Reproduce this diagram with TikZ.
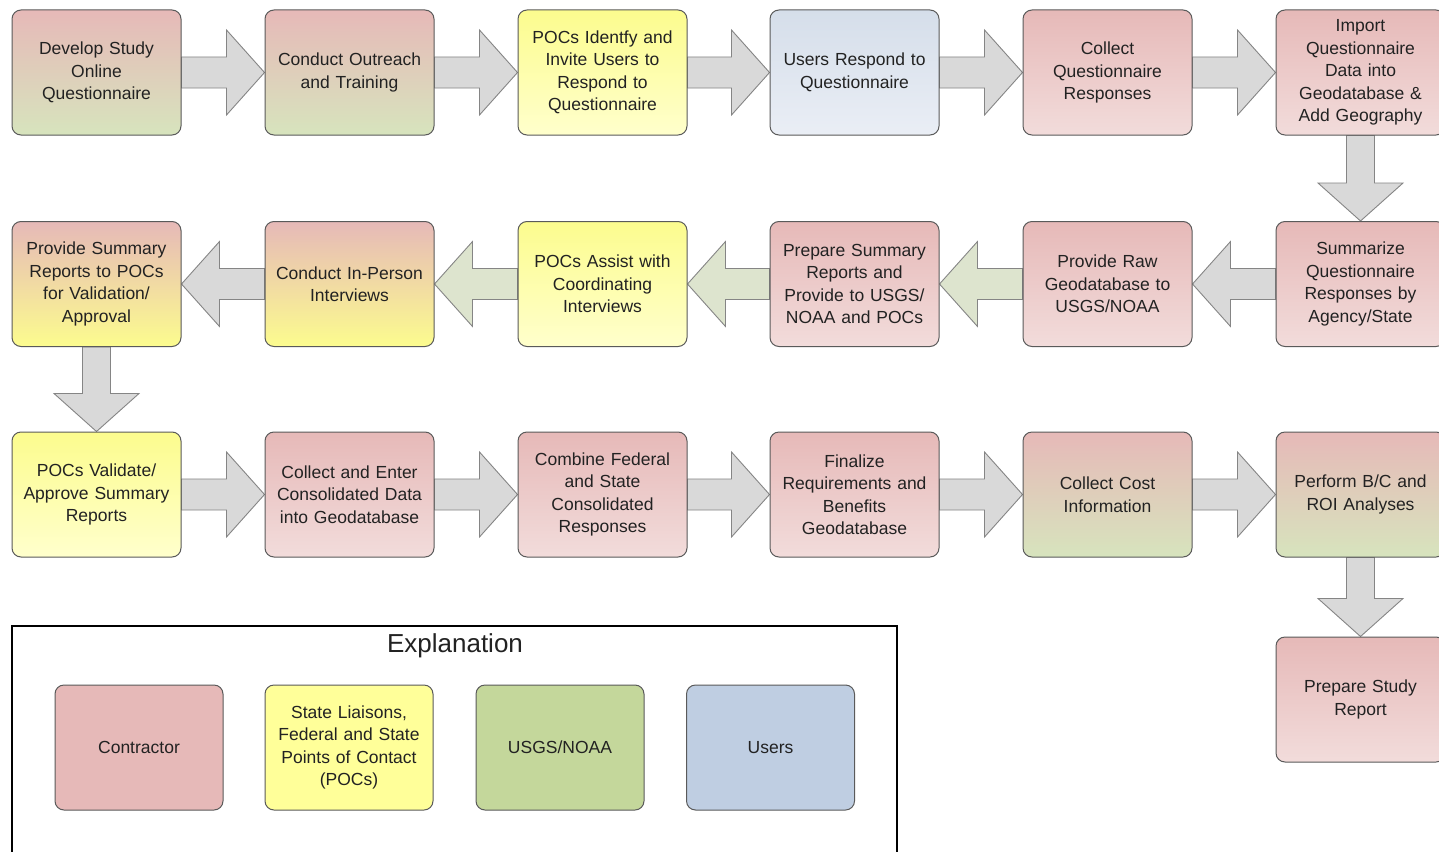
\documentclass[tikz,border=0pt]{standalone}
\usepackage{fontspec}
\setmainfont{Liberation Sans}
\usetikzlibrary{backgrounds}
\definecolor{pk}{HTML}{E6B9B8}
\definecolor{pkl}{HTML}{F2DCDB}
\definecolor{gn}{HTML}{D7E4BD}
\definecolor{yl}{HTML}{FCFC8E}
\definecolor{yll}{HTML}{FFFFCC}
\definecolor{bl}{HTML}{D5DEEA}
\definecolor{bll}{HTML}{EAEEF5}
\definecolor{lpk}{HTML}{E6B9B8}
\definecolor{lyl}{HTML}{FFFF99}
\definecolor{lgn}{HTML}{C4D79B}
\definecolor{lbl}{HTML}{BFCEE2}
\definecolor{agray}{HTML}{D9D9D9}
\definecolor{agreen}{HTML}{DDE4CE}
\definecolor{boxline}{HTML}{5A5A5A}
\definecolor{arrline}{HTML}{858585}
\definecolor{txt}{HTML}{222222}
\tikzset{
  stepbox/.style={draw=boxline, line width=1pt, rounded corners=9pt,
    minimum width=169pt, minimum height=125pt, inner sep=0pt,
    text width=169pt, align=center, text=txt,
    font=\fontsize{17.5}{22.5}\selectfont},
  cpg/.style={stepbox, top color=pk, bottom color=gn},
  cpp/.style={stepbox, top color=pk, bottom color=pkl},
  cyy/.style={stepbox, top color=yl, bottom color=yll},
  cpy/.style={stepbox, top color=pk, bottom color=yl},
  cbb/.style={stepbox, top color=bl, bottom color=bll},
  legbox/.style={draw=boxline, line width=1pt, rounded corners=9pt,
    minimum width=168pt, minimum height=125pt, inner sep=0pt,
    text width=168pt, align=center, text=txt,
    font=\fontsize{17.5}{22.5}\selectfont},
  bigarr/.style={draw=arrline, line width=0.9pt, line join=miter}
}
\newcommand\arrR[3]{\draw[bigarr,fill=#3] ([yshift=15.5pt]#1.east) -- ([xshift=-38pt,yshift=15.5pt]#2.west) -- ([xshift=-38pt,yshift=42.5pt]#2.west) -- (#2.west) -- ([xshift=-38pt,yshift=-42.5pt]#2.west) -- ([xshift=-38pt,yshift=-15.5pt]#2.west) -- ([yshift=-15.5pt]#1.east) -- cycle;}
\newcommand\arrL[3]{\draw[bigarr,fill=#3] ([yshift=15.5pt]#1.west) -- ([xshift=38pt,yshift=15.5pt]#2.east) -- ([xshift=38pt,yshift=42.5pt]#2.east) -- (#2.east) -- ([xshift=38pt,yshift=-42.5pt]#2.east) -- ([xshift=38pt,yshift=-15.5pt]#2.east) -- ([yshift=-15.5pt]#1.west) -- cycle;}
\newcommand\arrD[3]{\draw[bigarr,fill=#3] ([xshift=-14pt]#1.south) -- ([xshift=-14pt,yshift=38pt]#2.north) -- ([xshift=-42.5pt,yshift=38pt]#2.north) -- (#2.north) -- ([xshift=42.5pt,yshift=38pt]#2.north) -- ([xshift=14pt,yshift=38pt]#2.north) -- ([xshift=14pt]#1.south) -- cycle;}
\begin{document}
\begin{tikzpicture}[x=1pt,y=-1pt]
\useasboundingbox (0,0) rectangle (1439,851);
% row 1
\node[cpg] (a1) at (96.5,72.5) {Develop Study\\Online\\Questionnaire};
\node[cpg] (a2) at (349.5,72.5) {Conduct Outreach\\and Training};
\node[cyy] (a3) at (602.5,72.5) {POCs Identfy and\\Invite Users to\\Respond to\\Questionnaire};
\node[cbb] (a4) at (854.5,72.5) {Users Respond to\\Questionnaire};
\node[cpp] (a5) at (1107.5,72.5) {Collect\\Questionnaire\\Responses};
\node[cpp] (a6) at (1360.5,72.5) {Import\\Questionnaire\\Data into\\Geodatabase \&\\Add Geography};
% row 2
\node[cpp] (b6) at (1360.5,284) {Summarize\\Questionnaire\\Responses by\\Agency/State};
\node[cpp] (b5) at (1107.5,284) {Provide Raw\\Geodatabase to\\USGS/NOAA};
\node[cpp] (b4) at (854.5,284) {Prepare Summary\\Reports and\\Provide to USGS/\\NOAA and POCs};
\node[cyy] (b3) at (602.5,284) {POCs Assist with\\Coordinating\\Interviews};
\node[cpy] (b2) at (349.5,284) {Conduct In-Person\\Interviews};
\node[cpy] (b1) at (96.5,284) {Provide Summary\\Reports to POCs\\for Validation/\\Approval};
% row 3
\node[cyy] (c1) at (96.5,494.5) {POCs Validate/\\Approve Summary\\Reports};
\node[cpp] (c2) at (349.5,494.5) {Collect and Enter\\Consolidated Data\\into Geodatabase};
\node[cpp] (c3) at (602.5,494.5) {Combine Federal\\and State\\Consolidated\\Responses};
\node[cpp] (c4) at (854.5,494.5) {Finalize\\Requirements and\\Benefits\\Geodatabase};
\node[cpg] (c5) at (1107.5,494.5) {Collect Cost\\Information};
\node[cpg] (c6) at (1360.5,494.5) {Perform B/C and\\ROI Analyses};
% final
\node[cpp] (d6) at (1360.5,699.5) {Prepare Study\\Report};
% legend
\draw[line width=2.5pt,black] (12,870) -- (12,626) -- (897,626) -- (897,870);
\node[text=txt,font=\fontsize{26}{30}\selectfont] (lt) at (455,646) {Explanation};
\node[legbox,fill=lpk] (l1) at (139,747.5) {Contractor};
\node[legbox,fill=lyl] (l2) at (349,747.5) {State Liaisons,\\Federal and State\\Points of Contact\\(POCs)};
\node[legbox,fill=lgn] (l3) at (560,747.5) {USGS/NOAA};
\node[legbox,fill=lbl] (l4) at (770.5,747.5) {Users};
\begin{pgfonlayer}{background}
\fill[white] (0,0) rectangle (1439,851);
\arrR{a1}{a2}{agray}
\arrR{a2}{a3}{agray}
\arrR{a3}{a4}{agray}
\arrR{a4}{a5}{agray}
\arrR{a5}{a6}{agray}
\arrD{a6}{b6}{agray}
\arrL{b6}{b5}{agray}
\arrL{b5}{b4}{agreen}
\arrL{b4}{b3}{agreen}
\arrL{b3}{b2}{agreen}
\arrL{b2}{b1}{agray}
\arrD{b1}{c1}{agray}
\arrR{c1}{c2}{agray}
\arrR{c2}{c3}{agray}
\arrR{c3}{c4}{agray}
\arrR{c4}{c5}{agray}
\arrR{c5}{c6}{agray}
\arrD{c6}{d6}{agray}
\end{pgfonlayer}
\end{tikzpicture}
\end{document}
